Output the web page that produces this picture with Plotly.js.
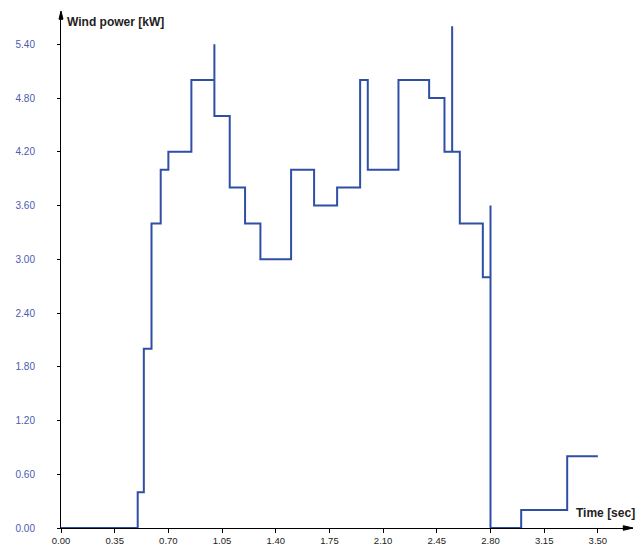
<!DOCTYPE html>
<html>
<head>
<meta charset="utf-8">
<script src="https://cdn.plot.ly/plotly-3.0.1.min.js"></script>
<style>html,body{margin:0;padding:0;background:#fff;}#chart{width:638px;height:547px;}</style>
</head>
<body>
<div id="chart"></div>
<script>
// Step-wise wind power trace (time in sec, power in kW)
var timeSec = [0, 0.50, 0.54, 0.59, 0.65, 0.70, 0.85, 1.00, 1.00, 1.10, 1.20, 1.30, 1.50, 1.65, 1.80, 1.95, 2.00, 2.20, 2.40, 2.50, 2.55, 2.55, 2.60, 2.75, 2.80, 2.80, 3.00, 3.30, 3.50];
var powerKW = [0, 0.40, 2.00, 3.40, 4.00, 4.20, 5.00, 5.40, 4.60, 3.80, 3.40, 3.00, 4.00, 3.60, 3.80, 5.00, 4.00, 5.00, 4.80, 4.20, 5.60, 4.20, 3.40, 2.80, 3.60, 0.00, 0.20, 0.80, 0.80];
var xTicks = [0, 0.35, 0.70, 1.05, 1.40, 1.75, 2.10, 2.45, 2.80, 3.15, 3.50];
var yTicks = [0, 0.60, 1.20, 1.80, 2.40, 3.00, 3.60, 4.20, 4.80, 5.40];

var trace = {
  x: timeSec, y: powerKW, type: 'scatter', mode: 'lines',
  line: {shape: 'hv', color: '#2f4fa6', width: 2},
  hoverinfo: 'x+y'
};

var layout = {
  width: 638, height: 547,
  margin: {l: 61, r: 5, t: 12, b: 19},
  paper_bgcolor: '#fff', plot_bgcolor: '#fff',
  showlegend: false,
  font: {family: 'Liberation Sans, Arial, sans-serif', size: 10},
  xaxis: {
    range: [0, 3.729], tickvals: xTicks, ticktext: xTicks.map(function(v){return v.toFixed(2);}),
    showgrid: false, zeroline: false, showline: true, linecolor: '#000', linewidth: 1,
    ticks: 'outside', ticklen: 4, tickcolor: '#000', tickfont: {color: '#222', size: 9.5},
    ticklabelstandoff: 0
  },
  yaxis: {
    range: [0, 5.76], tickvals: yTicks, ticktext: yTicks.map(function(v){return v.toFixed(2);}),
    showgrid: false, zeroline: false, showline: true, linecolor: '#000', linewidth: 1,
    ticks: 'outside', ticklen: 3, tickcolor: '#000', tickfont: {color: '#4a5bb0', size: 10},
    ticklabelstandoff: 20
  },
  shapes: [
    {type: 'path', xref: 'paper', yref: 'paper', path: 'M -0.0035 0.986 L 0 1.002 L 0.0035 0.986 Z', fillcolor: '#000', line: {color: '#000', width: 1}},
    {type: 'path', xref: 'paper', yref: 'paper', path: 'M 0.983 -0.0045 L 1 0 L 0.983 0.0045 Z', fillcolor: '#000', line: {color: '#000', width: 1}}
  ],
  annotations: [
    {text: '<b>Wind power [kW]</b>', xref: 'paper', yref: 'paper', x: 0.007, y: 0.98, xanchor: 'left', yanchor: 'middle', showarrow: false, font: {size: 12, color: '#222'}},
    {text: '<b>Time [sec]</b>', xref: 'paper', yref: 'paper', x: 1.007, y: 0.03, xanchor: 'right', yanchor: 'middle', showarrow: false, font: {size: 12, color: '#222'}}
  ]
};

Plotly.newPlot('chart', [trace], layout, {displayModeBar: false, staticPlot: true});
</script>
</body>
</html>
